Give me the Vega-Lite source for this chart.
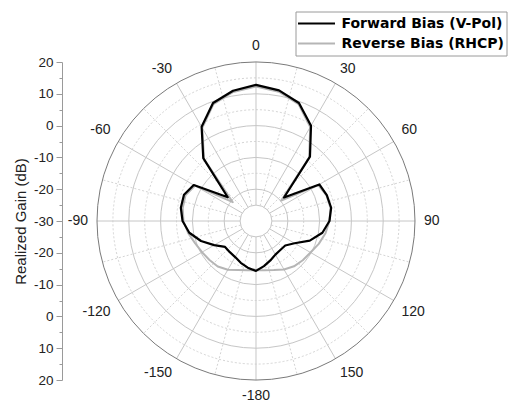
{
  "$schema": "https://vega.github.io/schema/vega-lite/v6.json",
  "width": 453,
  "height": 318,
  "autosize": {"type": "none"},
  "padding": {"left": 62, "top": 62, "right": 0, "bottom": 22},
  "background": "#ffffff",
  "config": {
    "view": {"stroke": null},
    "font": "Liberation Sans"
  },
  "datasets": {
    "rings": [
      {"gain": -25, "kind": "solid"},
      {"gain": -20, "kind": "solid"},
      {"gain": -15, "kind": "dash"},
      {"gain": -10, "kind": "solid"},
      {"gain": -5, "kind": "dash"},
      {"gain": 0, "kind": "solid"},
      {"gain": 5, "kind": "dash"},
      {"gain": 10, "kind": "solid"},
      {"gain": 15, "kind": "dash"},
      {"gain": 20, "kind": "outer"}
    ],
    "spokes": [
      {"angle": 0}, {"angle": 15}, {"angle": 30}, {"angle": 45}, {"angle": 60}, {"angle": 75},
      {"angle": 90}, {"angle": 105}, {"angle": 120}, {"angle": 135}, {"angle": 150}, {"angle": 165},
      {"angle": 180}, {"angle": 195}, {"angle": 210}, {"angle": 225}, {"angle": 240}, {"angle": 255},
      {"angle": 270}, {"angle": 285}, {"angle": 300}, {"angle": 315}, {"angle": 330}, {"angle": 345}
    ],
    "angleLabels": [
      {"angle": 0}, {"angle": 30}, {"angle": 60}, {"angle": 90}, {"angle": 120}, {"angle": 150},
      {"angle": -180}, {"angle": -150}, {"angle": -120}, {"angle": -90}, {"angle": -60}, {"angle": -30}
    ],
    "pattern": [
      {"series": "Reverse Bias (RHCP)", "angle": -180, "gain": -14.5},
      {"series": "Reverse Bias (RHCP)", "angle": -170, "gain": -14.3},
      {"series": "Reverse Bias (RHCP)", "angle": -160, "gain": -13.6},
      {"series": "Reverse Bias (RHCP)", "angle": -150, "gain": -12.3},
      {"series": "Reverse Bias (RHCP)", "angle": -140, "gain": -11.3},
      {"series": "Reverse Bias (RHCP)", "angle": -130, "gain": -10.9},
      {"series": "Reverse Bias (RHCP)", "angle": -120, "gain": -10.4},
      {"series": "Reverse Bias (RHCP)", "angle": -110, "gain": -9.6},
      {"series": "Reverse Bias (RHCP)", "angle": -100, "gain": -8.3},
      {"series": "Reverse Bias (RHCP)", "angle": -90, "gain": -7.2},
      {"series": "Reverse Bias (RHCP)", "angle": -80, "gain": -6.6},
      {"series": "Reverse Bias (RHCP)", "angle": -70, "gain": -6.4},
      {"series": "Reverse Bias (RHCP)", "angle": -60, "gain": -7.8},
      {"series": "Reverse Bias (RHCP)", "angle": -51, "gain": -20.6},
      {"series": "Reverse Bias (RHCP)", "angle": -40, "gain": -4.6},
      {"series": "Reverse Bias (RHCP)", "angle": -30, "gain": 3.8},
      {"series": "Reverse Bias (RHCP)", "angle": -20, "gain": 9.1},
      {"series": "Reverse Bias (RHCP)", "angle": -10, "gain": 11.2},
      {"series": "Reverse Bias (RHCP)", "angle": 0, "gain": 12.3},
      {"series": "Reverse Bias (RHCP)", "angle": 10, "gain": 11.3},
      {"series": "Reverse Bias (RHCP)", "angle": 20, "gain": 9.1},
      {"series": "Reverse Bias (RHCP)", "angle": 30, "gain": 4.1},
      {"series": "Reverse Bias (RHCP)", "angle": 40, "gain": -4.0},
      {"series": "Reverse Bias (RHCP)", "angle": 51, "gain": -19.8},
      {"series": "Reverse Bias (RHCP)", "angle": 60, "gain": -7.4},
      {"series": "Reverse Bias (RHCP)", "angle": 70, "gain": -6.4},
      {"series": "Reverse Bias (RHCP)", "angle": 80, "gain": -6.2},
      {"series": "Reverse Bias (RHCP)", "angle": 90, "gain": -6.9},
      {"series": "Reverse Bias (RHCP)", "angle": 100, "gain": -7.8},
      {"series": "Reverse Bias (RHCP)", "angle": 110, "gain": -9.0},
      {"series": "Reverse Bias (RHCP)", "angle": 120, "gain": -10.2},
      {"series": "Reverse Bias (RHCP)", "angle": 130, "gain": -10.8},
      {"series": "Reverse Bias (RHCP)", "angle": 140, "gain": -11.4},
      {"series": "Reverse Bias (RHCP)", "angle": 150, "gain": -12.4},
      {"series": "Reverse Bias (RHCP)", "angle": 160, "gain": -13.6},
      {"series": "Reverse Bias (RHCP)", "angle": 170, "gain": -14.3},
      {"series": "Reverse Bias (RHCP)", "angle": 180, "gain": -14.5},
      {"series": "Forward Bias (V-Pol)", "angle": -180, "gain": -14.3},
      {"series": "Forward Bias (V-Pol)", "angle": -170, "gain": -15.1},
      {"series": "Forward Bias (V-Pol)", "angle": -160, "gain": -16.0},
      {"series": "Forward Bias (V-Pol)", "angle": -150, "gain": -16.9},
      {"series": "Forward Bias (V-Pol)", "angle": -140, "gain": -17.2},
      {"series": "Forward Bias (V-Pol)", "angle": -130, "gain": -17.3},
      {"series": "Forward Bias (V-Pol)", "angle": -120, "gain": -14.8},
      {"series": "Forward Bias (V-Pol)", "angle": -110, "gain": -11.6},
      {"series": "Forward Bias (V-Pol)", "angle": -100, "gain": -8.7},
      {"series": "Forward Bias (V-Pol)", "angle": -90, "gain": -6.9},
      {"series": "Forward Bias (V-Pol)", "angle": -80, "gain": -6.0},
      {"series": "Forward Bias (V-Pol)", "angle": -70, "gain": -5.9},
      {"series": "Forward Bias (V-Pol)", "angle": -60, "gain": -7.4},
      {"series": "Forward Bias (V-Pol)", "angle": -50, "gain": -18.4},
      {"series": "Forward Bias (V-Pol)", "angle": -40, "gain": -4.2},
      {"series": "Forward Bias (V-Pol)", "angle": -30, "gain": 4.2},
      {"series": "Forward Bias (V-Pol)", "angle": -20, "gain": 9.5},
      {"series": "Forward Bias (V-Pol)", "angle": -10, "gain": 11.6},
      {"series": "Forward Bias (V-Pol)", "angle": 0, "gain": 12.8},
      {"series": "Forward Bias (V-Pol)", "angle": 10, "gain": 11.7},
      {"series": "Forward Bias (V-Pol)", "angle": 20, "gain": 9.5},
      {"series": "Forward Bias (V-Pol)", "angle": 30, "gain": 4.6},
      {"series": "Forward Bias (V-Pol)", "angle": 40, "gain": -3.6},
      {"series": "Forward Bias (V-Pol)", "angle": 50, "gain": -18.5},
      {"series": "Forward Bias (V-Pol)", "angle": 60, "gain": -7.0},
      {"series": "Forward Bias (V-Pol)", "angle": 70, "gain": -6.3},
      {"series": "Forward Bias (V-Pol)", "angle": 80, "gain": -6.0},
      {"series": "Forward Bias (V-Pol)", "angle": 90, "gain": -6.9},
      {"series": "Forward Bias (V-Pol)", "angle": 100, "gain": -8.8},
      {"series": "Forward Bias (V-Pol)", "angle": 110, "gain": -12.0},
      {"series": "Forward Bias (V-Pol)", "angle": 120, "gain": -16.0},
      {"series": "Forward Bias (V-Pol)", "angle": 130, "gain": -18.0},
      {"series": "Forward Bias (V-Pol)", "angle": 140, "gain": -18.1},
      {"series": "Forward Bias (V-Pol)", "angle": 150, "gain": -17.8},
      {"series": "Forward Bias (V-Pol)", "angle": 160, "gain": -16.8},
      {"series": "Forward Bias (V-Pol)", "angle": 170, "gain": -15.6},
      {"series": "Forward Bias (V-Pol)", "angle": 180, "gain": -14.3}
    ]
  },
  "encoding": {
    "x": {
      "field": "x",
      "type": "quantitative",
      "scale": {"domain": [-61.006, 81.447], "nice": false, "zero": false},
      "axis": null
    },
    "y": {
      "field": "y",
      "type": "quantitative",
      "scale": {"domain": [-50, 50], "nice": false, "zero": false},
      "axis": {
        "title": "Realized Gain (dB)",
        "values": [-50, -45, -40, -35, -30, -25, -20, -15, -10, -5, 0, 5, 10, 15, 20, 25, 30, 35, 40, 45, 50],
        "labelExpr": "datum.value % 10 === 0 ? '' + (abs(datum.value) - 30) : ''",
        "tickSize": {"condition": {"test": "datum.value % 10 !== 0", "value": 3}, "value": 6},
        "grid": false,
        "domainColor": "#9a9a9a",
        "tickColor": "#9a9a9a",
        "labelColor": "#222222",
        "labelFont": "Liberation Sans",
        "labelFontSize": 13.5,
        "labelPadding": 3,
        "labelOverlap": false,
        "labelFlush": false,
        "titleFont": "Liberation Sans",
        "titleFontSize": 15,
        "titleFontWeight": "normal",
        "titleColor": "#222222",
        "titlePadding": 5
      }
    }
  },
  "layer": [
    {
      "data": {"name": "rings"},
      "transform": [
        {"filter": "datum.kind === 'dash'"},
        {"calculate": "datum.gain + 30", "as": "r"},
        {"calculate": "0", "as": "x"},
        {"calculate": "0", "as": "y"}
      ],
      "mark": {"type": "point", "shape": "circle", "filled": false, "opacity": 1, "stroke": "#d4d4d4", "strokeWidth": 1, "strokeDash": [2, 2]},
      "encoding": {
        "size": {"field": "r", "type": "quantitative", "scale": {"type": "pow", "exponent": 2, "domain": [0, 50], "range": [0, 101124]}, "legend": null}
      }
    },
    {
      "data": {"name": "spokes"},
      "transform": [
        {"filter": "datum.angle % 30 !== 0"},
        {"calculate": "datum.angle * PI / 180", "as": "a"},
        {"calculate": "5 * sin(datum.a)", "as": "x"},
        {"calculate": "5 * cos(datum.a)", "as": "y"},
        {"calculate": "50 * sin(datum.a)", "as": "x2"},
        {"calculate": "50 * cos(datum.a)", "as": "y2"}
      ],
      "mark": {"type": "rule", "stroke": "#d4d4d4", "strokeWidth": 1, "strokeDash": [2, 2]},
      "encoding": {
        "x2": {"field": "x2"},
        "y2": {"field": "y2"}
      }
    },
    {
      "data": {"name": "rings"},
      "transform": [
        {"filter": "datum.kind === 'solid'"},
        {"calculate": "datum.gain + 30", "as": "r"},
        {"calculate": "0", "as": "x"},
        {"calculate": "0", "as": "y"}
      ],
      "mark": {"type": "point", "shape": "circle", "filled": false, "opacity": 1, "stroke": "#c6c6c6", "strokeWidth": 1},
      "encoding": {
        "size": {"field": "r", "type": "quantitative", "scale": {"type": "pow", "exponent": 2, "domain": [0, 50], "range": [0, 101124]}, "legend": null}
      }
    },
    {
      "data": {"name": "spokes"},
      "transform": [
        {"filter": "datum.angle % 30 === 0"},
        {"calculate": "datum.angle * PI / 180", "as": "a"},
        {"calculate": "5 * sin(datum.a)", "as": "x"},
        {"calculate": "5 * cos(datum.a)", "as": "y"},
        {"calculate": "50 * sin(datum.a)", "as": "x2"},
        {"calculate": "50 * cos(datum.a)", "as": "y2"}
      ],
      "mark": {"type": "rule", "stroke": "#c6c6c6", "strokeWidth": 1},
      "encoding": {
        "x2": {"field": "x2"},
        "y2": {"field": "y2"}
      }
    },
    {
      "data": {"name": "rings"},
      "transform": [
        {"filter": "datum.kind === 'outer'"},
        {"calculate": "datum.gain + 30", "as": "r"},
        {"calculate": "0", "as": "x"},
        {"calculate": "0", "as": "y"}
      ],
      "mark": {"type": "point", "shape": "circle", "filled": false, "opacity": 1, "stroke": "#7a7a7a", "strokeWidth": 1},
      "encoding": {
        "size": {"field": "r", "type": "quantitative", "scale": {"type": "pow", "exponent": 2, "domain": [0, 50], "range": [0, 101124]}, "legend": null}
      }
    },
    {
      "data": {"name": "angleLabels"},
      "transform": [
        {"calculate": "datum.angle * PI / 180", "as": "a"},
        {"calculate": "52.8 * sin(datum.a)", "as": "x"},
        {"calculate": "52.8 * cos(datum.a)", "as": "y"},
        {"calculate": "'' + datum.angle", "as": "label"},
        {"calculate": "sin(datum.a) > 0.2 ? 'left' : (sin(datum.a) < -0.2 ? 'right' : 'center')", "as": "hAlign"},
        {"calculate": "cos(datum.a) > 0.2 ? 'bottom' : (cos(datum.a) < -0.2 ? 'top' : 'middle')", "as": "vAlign"}
      ],
      "mark": {
        "type": "text",
        "font": "Liberation Sans",
        "fontSize": 14,
        "fill": "#222222",
        "align": {"expr": "datum.hAlign"},
        "baseline": {"expr": "datum.vAlign"}
      },
      "encoding": {
        "text": {"field": "label", "type": "nominal"}
      }
    },
    {
      "data": {"name": "pattern"},
      "transform": [
        {"calculate": "datum.angle * PI / 180", "as": "a"},
        {"calculate": "(datum.gain + 30) * sin(datum.a)", "as": "x"},
        {"calculate": "(datum.gain + 30) * cos(datum.a)", "as": "y"}
      ],
      "mark": {"type": "line", "strokeJoin": "round", "strokeCap": "round"},
      "encoding": {
        "order": {"field": "angle", "type": "quantitative"},
        "color": {
          "field": "series",
          "type": "nominal",
          "scale": {"domain": ["Forward Bias (V-Pol)", "Reverse Bias (RHCP)"], "range": ["#000000", "#b5b5b5"]},
          "legend": {
            "title": null,
            "orient": "none",
            "legendX": 233.5,
            "legendY": -50.5,
            "symbolType": "stroke",
            "symbolSize": 1369,
            "symbolOffset": -1.5,
            "clipHeight": 19,
            "labelFont": "DejaVu Sans",
            "labelFontWeight": "bold",
            "labelFontSize": 14,
            "labelColor": "#000000",
            "labelOffset": 5,
            "labelLimit": 400,
            "padding": 2.5,
            "rowPadding": 1,
            "strokeColor": "#9a9a9a",
            "fillColor": "#ffffff"
          }
        },
        "strokeWidth": {
          "field": "series",
          "type": "nominal",
          "scale": {"domain": ["Forward Bias (V-Pol)", "Reverse Bias (RHCP)"], "range": [2.2, 2.0]},
          "legend": {
            "title": null,
            "orient": "none",
            "legendX": 233.5,
            "legendY": -50.5,
            "symbolType": "stroke",
            "symbolSize": 1369,
            "symbolOffset": -1.5,
            "clipHeight": 19,
            "labelFont": "DejaVu Sans",
            "labelFontWeight": "bold",
            "labelFontSize": 14,
            "labelColor": "#000000",
            "labelOffset": 5,
            "labelLimit": 400,
            "padding": 2.5,
            "rowPadding": 1,
            "strokeColor": "#9a9a9a",
            "fillColor": "#ffffff"
          }
        }
      }
    }
  ]
}
